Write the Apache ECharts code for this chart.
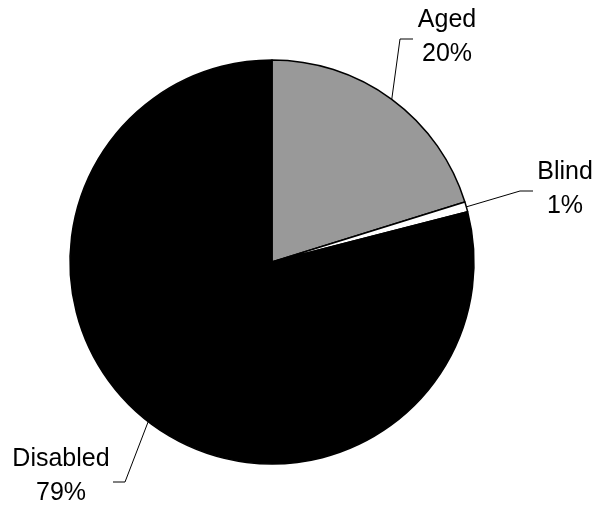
<!DOCTYPE html>
<html>
<head>
<meta charset="utf-8">
<script src="https://cdn.jsdelivr.net/npm/echarts@6/dist/echarts.min.js"></script>
<style>
html,body{margin:0;padding:0;background:#fff;}
#chart{width:599px;height:514px;}
</style>
</head>
<body>
<div id="chart"></div>
<script>
const categories = ['Aged', 'Blind', 'Disabled'];
const values = [20.2, 0.8, 79.0];
const colors = ['#999999', '#ffffff', '#000000'];

// label anchor placement (layout only)
const labelSpots = [
  {x: 447, y: 37, bend: [400, 39], end: [413, 39]},
  {x: 565, y: 189, bend: [520, 191], end: [533, 191]},
  {x: 61, y: 476, bend: [125, 482], end: [113, 482]}
];

const chart = echarts.init(document.getElementById('chart'));
chart.setOption({
  animation: false,
  series: [{
    type: 'pie',
    center: [272, 262],
    radius: 202,
    startAngle: 90,
    clockwise: true,
    data: categories.map((c, i) => ({
      name: c, value: values[i],
      itemStyle: {color: colors[i]}
    })),
    itemStyle: {borderColor: '#000', borderWidth: 1.5},
    emphasis: {disabled: true},
    label: {
      show: true,
      position: 'outside',
      formatter: p => p.name + '\n' + Math.round(p.percent) + '%',
      fontFamily: 'Liberation Sans, Arial, sans-serif',
      fontSize: 25,
      lineHeight: 34,
      color: '#000',
      align: 'center'
    },
    labelLine: {
      show: true,
      length: 20,
      length2: 10,
      lineStyle: {color: '#000', width: 1}
    },
    labelLayout: function (params) {
      const s = labelSpots[params.dataIndex];
      const out = {
        x: s.x, y: s.y, align: 'center', verticalAlign: 'middle'
      };
      if (params.labelLinePoints) {
        const p0 = params.labelLinePoints[0];
        out.labelLinePoints = [p0, s.bend, s.end];
      }
      return out;
    }
  }]
});
</script>
</body>
</html>
